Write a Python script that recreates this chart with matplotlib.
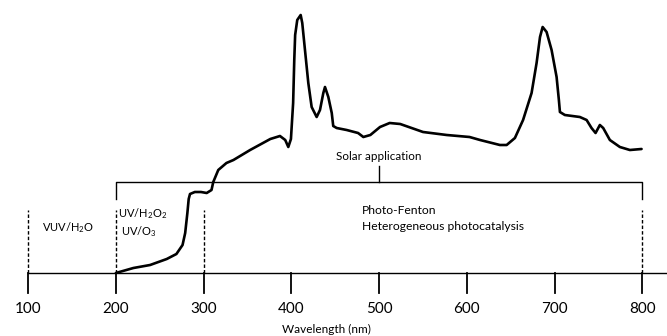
import matplotlib.pyplot as plt

plt.rcParams['font.family'] = ['Lato', 'DejaVu Sans']
plt.rcParams['mathtext.default'] = 'regular'

# solar spectrum sketch (relative irradiance, arbitrary units)
wavelength = [200, 220, 239, 258, 269, 276, 279, 281.5, 283, 284.5, 290, 297, 303.5,
              309, 311, 316.7, 326, 334, 353, 376, 387, 393, 396.5, 399.5, 402,
              403.3, 404.3, 406.7, 410.6, 412.4, 415.5, 419.3, 423.1, 428.8, 432.6,
              436.4, 438.3, 442.1, 446, 447.7, 451.6, 463, 476, 482, 490, 501, 512,
              524, 550, 577, 603, 615, 637.6, 645.3, 654.7, 664, 673.7, 679.4, 683.3,
              686.3, 690.8, 696.5, 702.2, 704.8, 706, 711.6, 728.7, 736.4, 742, 746.6,
              751.5, 755.3, 762.9, 774.3, 785.7, 799]
irradiance = [0, 5, 8, 14, 19, 28, 40, 60, 74, 79, 81, 81, 80,
              83, 91, 103, 110, 113, 123, 134, 137, 133, 126, 134, 170,
              213, 238, 253, 258, 250, 223, 190, 166, 156, 163,
              180, 186, 176, 160, 147, 145, 143, 140, 136, 138, 146, 150,
              149, 141, 138, 136, 133, 128, 128, 135, 153, 180, 210, 236,
              246, 241, 223, 196, 173, 161, 158, 156, 153, 145, 140,
              148, 145, 133, 126, 123, 124]

tick_values = [100, 200, 300, 400, 500, 600, 700, 800]
region_edges = [100, 200, 300, 800]
solar_range = (200, 800)

fig = plt.figure(figsize=(6.67, 3.36), dpi=100)
ax = fig.add_axes([0, 0, 1, 1])
ax.set_xlim(68, 828)
ax.set_ylim(-63, 273)
ax.axis('off')

# wavelength axis with ticks
ax.plot([100, 828], [0, 0], color='black', lw=1.0)
for t in tick_values:
    ax.plot([t, t], [0, -20], color='black', lw=1.3)
    ax.text(t, -36, str(t), ha='center', va='center', fontsize=11)
ax.text(440, -56, 'Wavelength (nm)', ha='center', va='center', fontsize=8.5)

# dashed boundaries between treatment regions
for x in region_edges:
    ax.plot([x, x], [0, 63], color='black', lw=1.0, ls=(0, (2.5, 1.5)))

# solar application bracket
lo, hi = solar_range
mid = (lo + hi) / 2
ax.plot([lo, lo, hi, hi], [74, 91, 91, 74], color='black', lw=1.0)
ax.plot([mid, mid], [91, 107], color='black', lw=1.0)
ax.text(mid, 116, 'Solar application', ha='center', va='center', fontsize=8.4)

# process labels
ax.text(146, 45, 'VUV/H$_2$O', ha='center', va='center', fontsize=8)
ax.text(202, 59, 'UV/H$_2$O$_2$', ha='left', va='center', fontsize=8)
ax.text(206, 41, 'UV/O$_3$', ha='left', va='center', fontsize=8)
ax.text(480, 63, 'Photo-Fenton', ha='left', va='center', fontsize=8.7)
ax.text(480, 46, 'Heterogeneous photocatalysis', ha='left', va='center', fontsize=8.7)

# spectrum curve
ax.plot(wavelength, irradiance, color='black', lw=1.9,
        solid_joinstyle='round', solid_capstyle='round')

fig.savefig('out.png', dpi=100)
